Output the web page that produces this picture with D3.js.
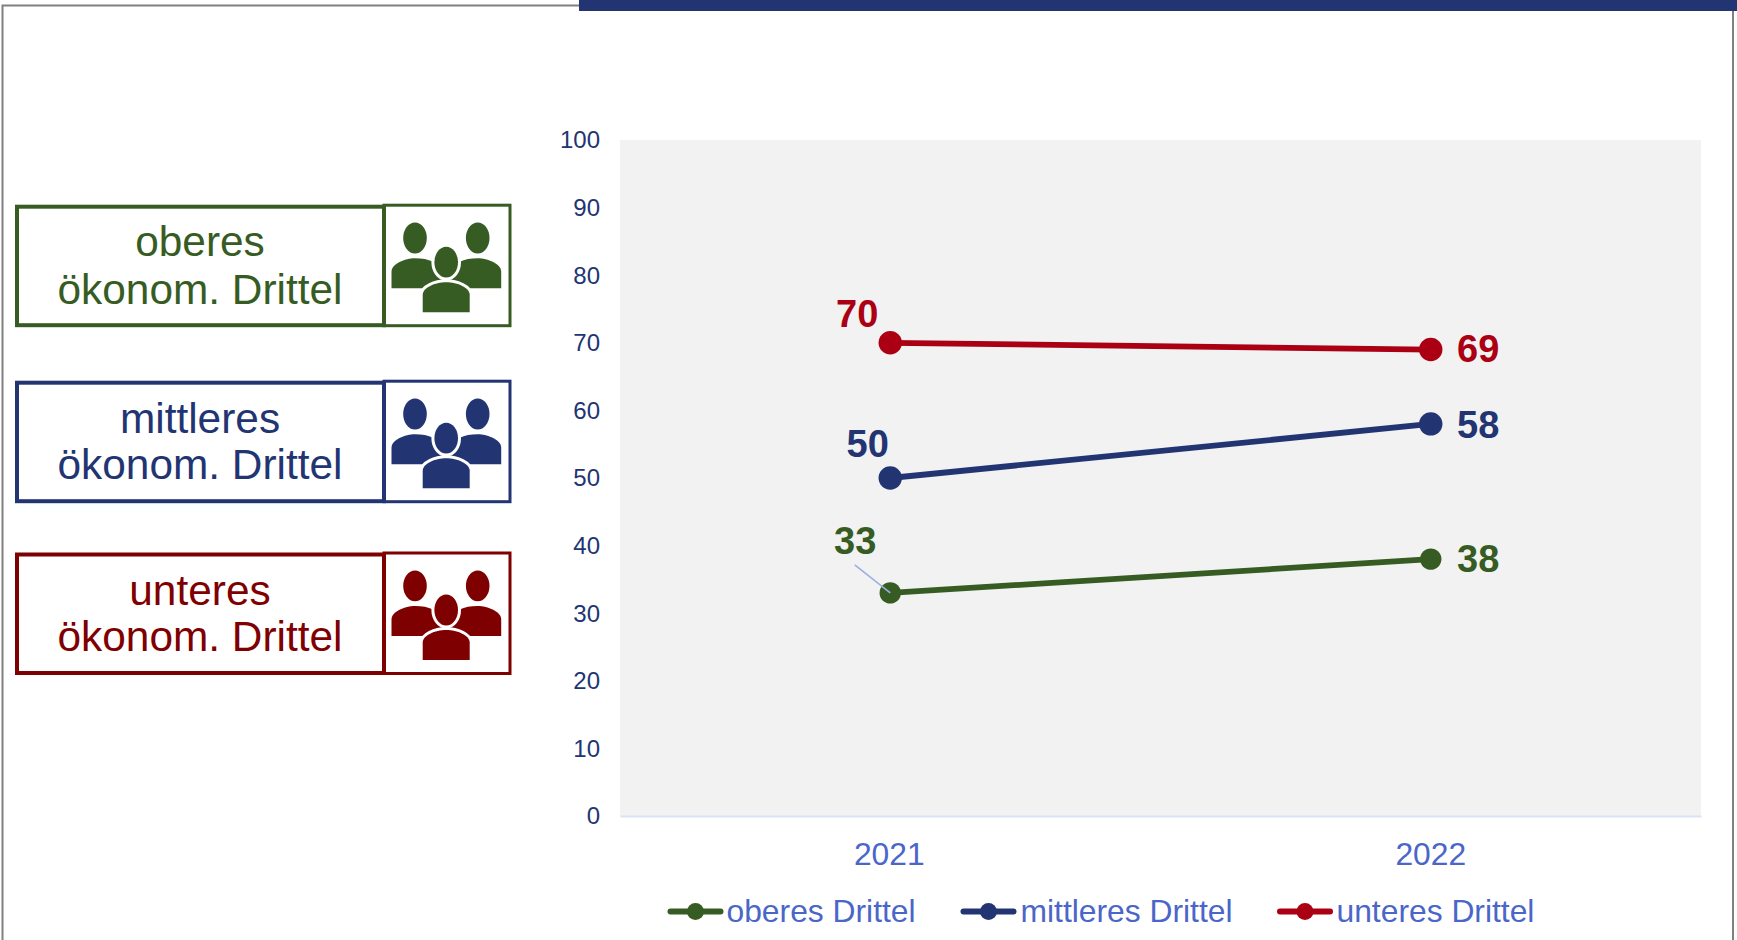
<!DOCTYPE html>
<html lang="de">
<head>
<meta charset="utf-8">
<title>Ökonomische Drittel 2021–2022</title>
<script src="https://cdn.jsdelivr.net/npm/d3@7"></script>
<style>
  html, body { margin: 0; padding: 0; background: #fff; }
  svg { display: block; font-family: "Liberation Sans", Arial, sans-serif; }
</style>
</head>
<body>
<svg id="chart" width="1737" height="940"></svg>
<script>
// Survey values per income third
const years = ["2021", "2022"];
const seriesNames = ["oberes Drittel", "mittleres Drittel", "unteres Drittel"];
const oberes = [33, 38];
const mittleres = [50, 58];
const unteres = [70, 69];
const yTicks = [0, 10, 20, 30, 40, 50, 60, 70, 80, 90, 100];
const groupFirstLines = ["oberes", "mittleres", "unteres"];
const groupSecondLine = "ökonom. Drittel";

const green = "#375c23", navy = "#223572", red = "#ab0013", darkRed = "#7f0000";
const axisBlue = "#4a66c8", axisLine = "#dae3f3", plotBg = "#f2f2f2";

const svg = d3.select("#chart");
const W = 1737, H = 940;
const plot = { left: 620, right: 1701, top: 140, bottom: 816 };

// Page frame and the navy rule along the top edge
svg.append("path")
  .attr("d", `M2.5,${H} V5.5 H579 M1733,11 V${H}`)
  .attr("fill", "none").attr("stroke", "#808080").attr("stroke-width", 2);
svg.append("rect").attr("x", 579).attr("y", 0).attr("width", W - 579).attr("height", 11).attr("fill", navy);

// Scales
const x = d3.scalePoint().domain(years).range([plot.left, plot.right]).padding(0.5);
const y = d3.scaleLinear().domain([0, 100]).range([plot.bottom, plot.top]);

svg.append("rect")
  .attr("x", plot.left).attr("y", plot.top)
  .attr("width", plot.right - plot.left).attr("height", plot.bottom - plot.top)
  .attr("fill", plotBg);

// Axes
const yAxis = svg.append("g")
  .attr("transform", `translate(${plot.left - 20},0)`)
  .call(d3.axisLeft(y).tickValues(yTicks).tickSize(0).tickPadding(0));
yAxis.select(".domain").remove();
yAxis.selectAll("text")
  .attr("font-size", 24).attr("font-family", "Liberation Sans")
  .attr("fill", navy).attr("dy", "0.33em");

const xAxis = svg.append("g")
  .attr("transform", `translate(0,${plot.bottom})`)
  .call(d3.axisBottom(x).tickSize(0).tickPadding(0));
xAxis.select(".domain").attr("stroke", axisLine).attr("stroke-width", 2);
xAxis.selectAll("text")
  .attr("font-size", 31.8).attr("font-family", "Liberation Sans")
  .attr("fill", axisBlue).attr("x", (d, i) => i === 0 ? -1.5 : -0.5).attr("y", 48.5).attr("dy", 0);

// Lines, markers and value labels; label offsets are relative to each marker
const series = [
  { name: seriesNames[0], values: oberes, color: green, r: 10.7, offsets: [[-35, -39], [47.5, 13.2]] },
  { name: seriesNames[1], values: mittleres, color: navy, r: 11.7, offsets: [[-22.5, -21.3], [47.5, 14.4]] },
  { name: seriesNames[2], values: unteres, color: red, r: 11.7, offsets: [[-33, -15.5], [47.5, 12]] }
];
const line = d3.line().x((d, i) => x(years[i])).y(d => y(d));

series.forEach(s => {
  const g = svg.append("g");
  g.append("path").attr("d", line(s.values))
    .attr("fill", "none").attr("stroke", s.color).attr("stroke-width", 5.8);
  g.selectAll("circle").data(s.values).join("circle")
    .attr("cx", (d, i) => x(years[i])).attr("cy", d => y(d))
    .attr("r", s.r).attr("fill", s.color);
  g.selectAll("text").data(s.values).join("text")
    .attr("x", (d, i) => x(years[i]) + s.offsets[i][0])
    .attr("y", (d, i) => y(d) + s.offsets[i][1])
    .attr("text-anchor", "middle")
    .attr("font-size", 38).attr("font-weight", 700)
    .attr("fill", s.color).text(d => d);
});

// Leader from the 33 label down to its marker
svg.append("line")
  .attr("x1", x(years[0]) - 35.5).attr("y1", y(oberes[0]) - 28)
  .attr("x2", x(years[0])).attr("y2", y(oberes[0]))
  .attr("stroke", "#9db0e3").attr("stroke-width", 1.6);

// Legend along the bottom
const legendKeys = [
  { color: green, x0: 670.5, label: seriesNames[0], tx: 726.5 },
  { color: navy, x0: 963.5, label: seriesNames[1], tx: 1020.5 },
  { color: red, x0: 1280, label: seriesNames[2], tx: 1336.5 }
];
const legend = svg.append("g");
legendKeys.forEach(k => {
  legend.append("line").attr("x1", k.x0).attr("x2", k.x0 + 50)
    .attr("y1", 911.5).attr("y2", 911.5)
    .attr("stroke", k.color).attr("stroke-width", 6).attr("stroke-linecap", "round");
  legend.append("circle").attr("cx", k.x0 + 25).attr("cy", 911.5).attr("r", 8.5).attr("fill", k.color);
  legend.append("text").attr("x", k.tx).attr("y", 922)
    .attr("font-size", 31.8).attr("fill", axisBlue).text(k.label);
});

// Group cards on the left: caption box plus three-person icon
const cards = [
  { first: groupFirstLines[0], color: green, top: 204.7, base1: 51.5, base2: 99 },
  { first: groupFirstLines[1], color: navy, top: 380.7, base1: 52.5, base2: 98 },
  { first: groupFirstLines[2], color: darkRed, top: 552.5, base1: 52, base2: 98 }
];

function drawPeople(g, color) {
  // Coordinates are relative to the card's top-left corner
  const shoulder = (cx, dir) =>
    `M${cx - dir * 23.5},83.5 V67 C${cx - dir * 23.5},59 ${cx - dir * 10},53.5 ${cx},53.5 ` +
    `C${cx + dir * 14},53.5 ${cx + dir * 24},58 ${cx + dir * 30},68 V83.5 Z`;
  g.append("path").attr("d", shoulder(415, 1)).attr("fill", color);
  g.append("path").attr("d", shoulder(477.7, -1)).attr("fill", color);
  g.append("ellipse").attr("cx", 415).attr("cy", 33.3).attr("rx", 11.8).attr("ry", 15.4).attr("fill", color);
  g.append("ellipse").attr("cx", 477.7).attr("cy", 33.3).attr("rx", 11.8).attr("ry", 15.4).attr("fill", color);
  g.append("ellipse").attr("cx", 446.2).attr("cy", 57.5).attr("rx", 11.8).attr("ry", 15.4)
    .attr("fill", color).attr("stroke", "#fff").attr("stroke-width", 6).attr("paint-order", "stroke");
  g.append("path")
    .attr("d", "M422.7,107.5 V90 C422.7,83 435,77.5 446.2,77.5 C457.4,77.5 469.7,83 469.7,90 V107.5 Z")
    .attr("fill", color).attr("stroke", "#fff").attr("stroke-width", 6).attr("paint-order", "stroke");
}

cards.forEach(c => {
  const g = svg.append("g").attr("transform", `translate(0,${c.top})`);
  g.append("rect").attr("x", 384).attr("y", 0.5).attr("width", 126).attr("height", 120.5)
    .attr("fill", "#fff").attr("stroke", c.color).attr("stroke-width", 3);
  g.append("rect").attr("x", 17).attr("y", 2).attr("width", 367).attr("height", 118.5)
    .attr("fill", "none").attr("stroke", c.color).attr("stroke-width", 4);
  [[c.first, c.base1], [groupSecondLine, c.base2]].forEach(([t, b]) => {
    g.append("text").attr("x", 200).attr("y", b).attr("text-anchor", "middle")
      .attr("font-size", 42.4).attr("fill", c.color).text(t);
  });
  drawPeople(g, c.color);
});
</script>
</body>
</html>
